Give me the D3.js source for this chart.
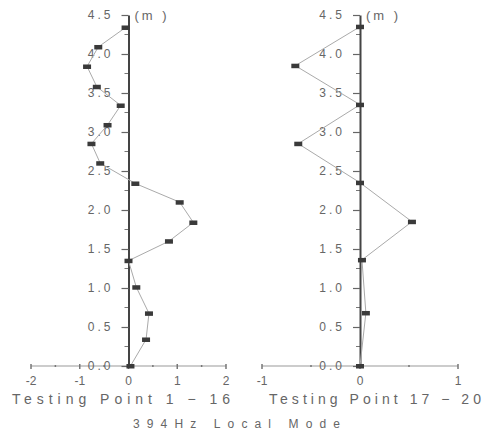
<!DOCTYPE html>
<html>
<head>
<meta charset="utf-8">
<script src="https://cdn.jsdelivr.net/npm/d3@7"></script>
<style>
  body { margin: 0; background: #fff; }
  text { font-family: "Liberation Sans", Arial, sans-serif; fill: #666; }
</style>
</head>
<body>
<div id="chart"></div>
<script>
// height (m) of each testing point and its displacement
var leftHeights = [0, 0.34, 0.675, 1.01, 1.35, 1.6, 1.84, 2.1, 2.34, 2.6, 2.85, 3.09, 3.34, 3.58, 3.84, 4.09, 4.34];
var leftValues = [0.04, 0.36, 0.42, 0.16, 0.0, 0.83, 1.33, 1.05, 0.14, -0.58, -0.76, -0.43, -0.16, -0.65, -0.85, -0.62, -0.06];
var rightHeights = [0, 0.68, 1.36, 1.85, 2.35, 2.85, 3.35, 3.85, 4.35];
var rightValues = [0, 0.06, 0.02, 0.53, 0, -0.63, 0, -0.66, 0];

var yTicks = [0, 0.5, 1, 1.5, 2, 2.5, 3, 3.5, 4, 4.5];
var leftXTicks = [-2, -1, 0, 1, 2];
var rightXTicks = [-1, 0, 1];
var leftTitle = "Testing Point 1 \u2212 16";
var rightTitle = "Testing Point 17 \u2212 20";
var caption = "394Hz Local Mode";

var width = 488, height = 433;

var svg = d3.select("#chart")
    .append("svg")
    .attr("width", width)
    .attr("height", height);

var y = d3.scaleLinear().domain([0, 4.5]).range([366, 15]);

function panel(xScale, xTicks, heights, values, title, titleX, titleW) {
    var g = svg.append("g");
    var x0 = xScale(0);

    // horizontal axis
    var xd = xScale.domain();
    g.append("line")
        .attr("x1", xScale(xd[0])).attr("x2", xScale(xd[1]))
        .attr("y1", y(0)).attr("y2", y(0))
        .attr("stroke", "#999").attr("stroke-width", 1);
    var halves = d3.range(xd[0], xd[1] + 0.01, 0.5);
    g.selectAll(".xtick").data(halves).enter().append("line")
        .attr("x1", function(d) { return xScale(d); })
        .attr("x2", function(d) { return xScale(d); })
        .attr("y1", function(d) { return Number.isInteger(d) ? y(0) - 2 : y(0) - 1; })
        .attr("y2", function(d) { return Number.isInteger(d) ? y(0) + 3 : y(0) + 1; })
        .attr("stroke", "#777").attr("stroke-width", 1.5);
    g.selectAll(".xlab").data(xTicks).enter().append("text")
        .attr("x", function(d) { return xScale(d); })
        .attr("y", 385)
        .attr("text-anchor", "middle")
        .style("font-size", "12px")
        .text(function(d) { return d < 0 ? "-" + Math.abs(d) : d; });

    // vertical axis with minor ticks
    var minor = d3.range(0.25, 4.5, 0.5);
    g.selectAll(".minor").data(minor).enter().append("line")
        .attr("x1", x0 - 4).attr("x2", x0)
        .attr("y1", function(d) { return y(d); })
        .attr("y2", function(d) { return y(d); })
        .attr("stroke", "#777").attr("stroke-width", 1);
    var yAxis = d3.axisLeft(y)
        .tickValues(yTicks)
        .tickSize(7)
        .tickSizeOuter(0)
        .tickPadding(8)
        .tickFormat(d3.format(".1f"));
    var ya = g.append("g")
        .attr("transform", "translate(" + x0 + ",0)")
        .call(yAxis);
    ya.select(".domain").attr("stroke", "#444").attr("stroke-width", 2);
    ya.selectAll(".tick line").attr("stroke", "#666").attr("stroke-width", 1.2);
    ya.selectAll(".tick text")
        .style("font-size", "12px")
        .style("letter-spacing", "3px")
        .attr("fill", "#666");

    g.append("text")
        .attr("x", x0 + 6)
        .attr("y", y(4.5) + 5)
        .style("font-size", "13px")
        .style("letter-spacing", "3px")
        .text("(m )");

    // mode shape line and markers
    var pts = heights.map(function(h, i) { return [values[i], h]; });
    var line = d3.line()
        .x(function(d) { return xScale(d[0]); })
        .y(function(d) { return y(d[1]); });
    g.append("path")
        .datum(pts)
        .attr("d", line)
        .attr("fill", "none")
        .attr("stroke", "#aaa")
        .attr("stroke-width", 1);
    g.selectAll(".mark").data(pts).enter().append("rect")
        .attr("x", function(d) { return xScale(d[0]) - 4; })
        .attr("y", function(d) { return y(d[1]) - 2; })
        .attr("width", 8)
        .attr("height", 4.5)
        .attr("fill", "#3a3a3a");

    svg.append("text")
        .attr("x", titleX)
        .attr("y", 404)
        .attr("textLength", titleW)
        .attr("lengthAdjust", "spacing")
        .style("font-size", "14px")
        .text(title);
}

var xLeft = d3.scaleLinear().domain([-2, 2]).range([31, 226]);
var xRight = d3.scaleLinear().domain([-1, 1]).range([262, 458]);

panel(xLeft, leftXTicks, leftHeights, leftValues, leftTitle, 12, 218);
panel(xRight, rightXTicks, rightHeights, rightValues, rightTitle, 269, 212);

svg.append("text")
    .attr("x", 133)
    .attr("y", 428)
    .attr("textLength", 207)
    .attr("lengthAdjust", "spacing")
    .style("font-size", "12px")
    .text(caption);
</script>
</body>
</html>
